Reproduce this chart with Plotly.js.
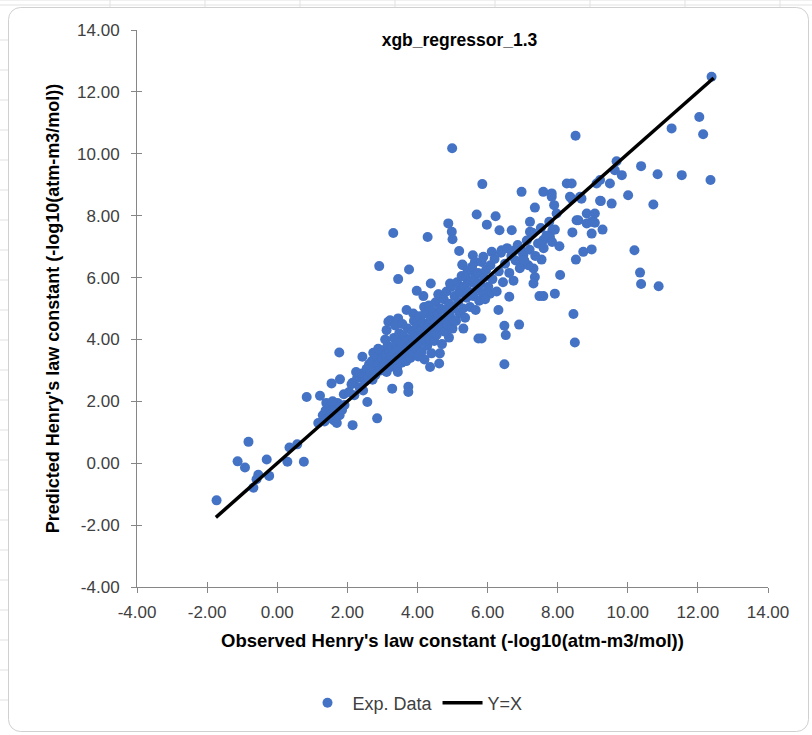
<!DOCTYPE html>
<html>
<head>
<meta charset="utf-8">
<script src="https://cdn.plot.ly/plotly-3.0.1.min.js"></script>
<style>html,body{margin:0;padding:0;background:#fff;}#chart{width:812px;height:735px;}</style>
</head>
<body>
<div id="chart"></div>
<script>
// Observed (x) and predicted (y) Henry's law constants
const obsX = [
 -1.73,-0.82,-1.13,-0.92,-0.30,-0.54,-0.59,-0.68,-0.23,0.29,0.35,0.57,0.76,0.84,1.22,1.17,2.15,1.55,1.90,2.15,1.77,2.85,1.79,2.43,2.57,3.28,3.74,3.74,2.74,
 3.31,4.29,2.91,3.76,3.45,4.88,4.98,5.00,5.19,5.28,5.58,4.38,3.98,4.17,4.60,3.22,3.12,3.69,3.88,4.36,4.62,4.64,4.90,5.31,5.74,4.93,5.21,5.40,5.64,3.17,3.45,4.19,
 5.85,6.97,7.59,7.83,8.26,8.40,8.35,8.64,10.01,9.23,9.54,9.11,9.49,5.69,6.23,5.98,6.34,6.69,7.35,7.90,7.97,7.21,7.21,7.85,8.42,8.54,8.83,9.06,8.97,8.97,9.28,8.73,8.97,8.52,10.19,10.35,10.38,10.88,8.05,7.50,7.59,7.78,7.54,7.31,7.35,7.31,8.07,7.92,7.48,7.59,8.45,8.49,6.90,6.48,6.52,5.83,6.48,6.62,6.31,6.07,5.64,5.29,5.88,6.12,6.40,6.78,7.02,6.97,7.16,
 12.39,12.04,12.15,11.25,8.51,9.68,9.63,9.83,10.38,10.85,11.54,12.36,10.73,9.21,7.83,8.68,8.40,9.21,8.59,8.83,9.06,4.99,
 1.30,1.38,1.45,1.50,1.55,1.62,1.66,1.72,1.78,1.85,1.92,1.40,1.70,1.58,1.35,
 2.05,2.12,2.20,2.28,2.35,2.42,2.50,2.55,2.60,2.25,2.45,2.62,
 2.65,2.70,2.75,2.80,2.85,2.90,2.95,3.00,3.02,3.05,3.10,3.12,3.15,3.18,3.20,2.72,2.88,3.08,
 3.22,3.25,3.28,3.30,3.33,3.35,3.38,3.40,3.42,3.45,3.48,3.50,3.52,3.55,3.58,3.60,3.62,3.65,3.68,3.70,3.72,3.75,3.78,3.80,3.36,3.57,3.44,
 3.82,3.85,3.88,3.90,3.92,3.95,3.98,4.00,4.02,4.05,4.08,4.10,4.12,4.15,4.18,4.20,4.22,4.25,4.28,4.30,4.33,4.35,4.38,4.40,4.42,4.45,4.48,
 4.50,4.52,4.55,4.58,4.60,4.63,4.66,4.70,4.72,4.75,4.78,4.80,4.83,4.86,4.90,4.93,4.96,5.00,5.03,5.06,5.10,5.13,5.16,5.20,
 5.23,5.26,5.30,5.33,5.36,5.40,5.43,5.46,5.50,5.53,5.56,5.60,5.63,5.66,5.70,5.73,5.76,5.80,5.83,5.86,5.90,5.93,5.96,
 6.02,6.08,6.14,6.20,6.26,6.32,6.38,6.44,6.50,6.56,6.62,6.68,6.74,6.80,6.86,6.92,6.98,
 7.05,7.12,7.20,7.28,7.36,7.44,7.52,7.60,7.68,7.76,7.84,7.92
];
const predY = [
 -1.20,0.69,0.06,-0.14,0.12,-0.37,-0.52,-0.79,-0.41,0.05,0.51,0.61,0.05,2.14,2.18,1.30,1.23,2.58,2.23,2.60,3.58,1.45,2.71,3.44,1.98,2.41,2.47,2.30,3.57,
 7.44,7.31,6.37,6.26,5.95,7.75,7.48,7.24,6.86,6.42,6.72,5.81,5.57,5.40,5.46,4.62,4.30,4.95,4.84,3.11,3.22,3.55,4.06,4.35,4.03,5.81,5.59,5.97,6.13,4.57,4.68,5.05,
 9.02,8.77,8.77,8.72,9.04,9.04,8.61,8.61,8.66,8.47,8.39,9.04,9.04,8.04,7.98,7.71,7.53,7.53,8.26,8.34,8.07,7.80,7.48,7.53,7.46,7.85,8.07,8.07,7.80,7.42,7.55,6.83,6.91,6.58,6.88,6.16,5.79,5.72,7.01,7.10,7.21,7.31,6.58,6.29,6.02,5.81,6.08,5.48,5.40,5.40,4.82,3.90,4.48,4.44,4.14,4.03,3.20,5.38,4.95,5.48,6.51,6.40,6.67,6.83,6.88,6.88,6.72,6.40,6.40,
 12.49,11.19,10.63,10.82,10.58,9.76,9.47,9.31,9.60,9.34,9.31,9.15,8.36,9.15,8.61,8.55,8.55,8.48,7.85,7.75,7.77,10.18,
 1.55,1.70,1.45,1.82,1.60,1.38,1.75,1.95,1.55,1.72,1.88,1.95,1.30,2.00,1.35,
 2.30,2.55,2.20,2.75,2.45,2.90,2.65,3.05,2.80,2.95,2.35,3.20,
 2.95,3.30,3.10,2.85,3.45,3.20,3.00,3.40,3.65,3.15,3.50,2.95,3.80,3.30,3.60,2.70,3.70,4.00,
 3.10,3.45,3.75,3.25,4.05,3.55,3.35,3.85,3.05,3.65,4.20,3.45,3.90,3.25,3.70,4.10,3.50,3.95,3.30,3.75,4.35,3.60,4.00,3.40,4.45,4.50,2.95,
 3.85,4.25,3.55,4.60,3.95,3.70,4.40,4.10,3.45,4.75,3.90,4.30,3.60,4.55,4.00,3.35,4.85,4.20,3.80,4.45,5.10,4.00,4.65,3.55,4.30,4.90,3.95,
 4.55,5.20,4.15,4.80,5.45,4.40,5.00,3.85,4.65,5.30,4.25,4.95,5.55,4.50,5.15,4.75,5.70,4.35,5.00,5.40,4.60,5.85,5.20,4.85,
 5.50,6.05,5.00,5.70,4.70,5.35,6.20,5.55,5.05,5.85,6.35,5.40,5.95,4.95,5.65,6.15,5.25,5.80,6.50,5.50,6.00,5.30,6.25,
 5.70,6.40,5.95,6.60,5.55,6.20,6.80,5.85,6.45,6.95,6.15,6.70,5.90,6.55,7.05,6.30,6.85,
 6.55,7.20,6.90,7.45,6.70,7.10,7.60,6.95,7.35,7.80,7.15,7.55
];
// Y = X reference line end points
const lineX = [-1.75, 12.45];
const lineY = [-1.75, 12.45];
const xTicks = [-4, -2, 0, 2, 4, 6, 8, 10, 12, 14];
const yTicks = [-4, -2, 0, 2, 4, 6, 8, 10, 12, 14];

const fontFam = '"Liberation Sans", Arial, sans-serif';
const tickFmt = v => v.toFixed(2);

const traces = [
  {x: obsX, y: predY, type: 'scatter', mode: 'markers', name: 'Exp. Data',
   marker: {color: '#4472C4', size: 10, line: {width: 0}}},
  {x: lineX, y: lineY, type: 'scatter', mode: 'lines', name: 'Y=X',
   line: {color: '#000000', width: 3.5}},
  // empty helper trace so the inner tick marks (crossing ticks) are drawn
  {x: [null], y: [null], xaxis: 'x2', yaxis: 'y2', type: 'scatter', mode: 'markers', showlegend: false, hoverinfo: 'skip'}
];

const axisCommon = {
  showgrid: false, zeroline: false, showline: true, linecolor: '#868686', linewidth: 1,
  ticks: 'outside', ticklen: 5, tickcolor: '#868686', tickwidth: 1,
  tickfont: {family: fontFam, size: 17, color: '#404040'},
  range: [-4, 14], tickmode: 'array', fixedrange: true
};
const innerTicks = {
  showgrid: false, zeroline: false, showline: false, showticklabels: false,
  ticks: 'inside', ticklen: 5, tickcolor: '#868686', tickwidth: 1,
  range: [-4, 14], tickmode: 'array', fixedrange: true
};

const layout = {
  width: 812, height: 735,
  margin: {l: 137, r: 44, t: 30, b: 148},
  paper_bgcolor: '#ffffff', plot_bgcolor: '#ffffff',
  showlegend: true,
  title: {text: '<b>xgb_regressor_1.3</b>', font: {family: fontFam, size: 17.5, color: '#000'},
          x: 415/812, xref: 'paper', xanchor: 'center', y: 1 - 40/735, yref: 'container', yanchor: 'middle'},
  xaxis: Object.assign({}, axisCommon, {
    tickvals: xTicks, ticktext: xTicks.map(tickFmt), ticklabelstandoff: 5,
    title: {text: "<b>Observed Henry's law constant (-log10(atm-m3/mol))</b>", font: {family: fontFam, size: 18.5, color: '#000'}, standoff: 12}
  }),
  yaxis: Object.assign({}, axisCommon, {
    tickvals: yTicks, ticktext: yTicks.map(tickFmt), ticklabelstandoff: 8,
    title: {text: "<b>Predicted Henry's law constant (-log10(atm-m3/mol))</b>", font: {family: fontFam, size: 18, color: '#000'}, standoff: 12}
  }),
  xaxis2: Object.assign({}, innerTicks, {tickvals: xTicks, overlaying: 'x', anchor: 'y2', side: 'bottom'}),
  yaxis2: Object.assign({}, innerTicks, {tickvals: yTicks, overlaying: 'y', anchor: 'x2', side: 'left'}),
  legend: {orientation: 'h', x: 415/812, xref: 'container', xanchor: 'center', y: 1 - 703/735, yref: 'container', yanchor: 'middle',
           font: {family: fontFam, size: 18, color: '#404040'}, itemwidth: 40, bgcolor: 'rgba(0,0,0,0)'}
};

Plotly.newPlot('chart', traces, layout, {displayModeBar: false, staticPlot: true}).then(() => {
  // Excel-like chart frame drawn as an SVG overlay (decorative only)
  const svg = document.querySelector('#chart .main-svg');
  const ns = 'http://www.w3.org/2000/svg';
  const g = document.createElementNS(ns, 'g');
  const mk = (tag, attrs) => { const e = document.createElementNS(ns, tag); for (const k in attrs) e.setAttribute(k, attrs[k]); g.appendChild(e); };
  [0,5].forEach(y => mk('line', {x1: 0, y1: y, x2: 812, y2: y, stroke: '#e1e1e1', 'stroke-width': 1}));
  [110, 205, 300, 395, 495, 590, 685, 780].forEach(x => mk('line', {x1: x, y1: 0, x2: x, y2: 7, stroke: '#e1e1e1', 'stroke-width': 1}));
  [40, 70, 100, 130, 160, 190, 220, 250, 280, 310, 340, 370, 400, 430, 460, 490, 520, 550, 580, 610, 640, 670, 700].forEach(y => mk('line', {x1: 0, y1: y, x2: 8, y2: y, stroke: '#e1e1e1', 'stroke-width': 1}));
  mk('rect', {x: 8.5, y: 7.5, width: 800, height: 724, rx: 12, ry: 12, fill: 'none', stroke: '#d0d0d0', 'stroke-width': 1});
  svg.appendChild(g);
});
</script>
</body>
</html>
